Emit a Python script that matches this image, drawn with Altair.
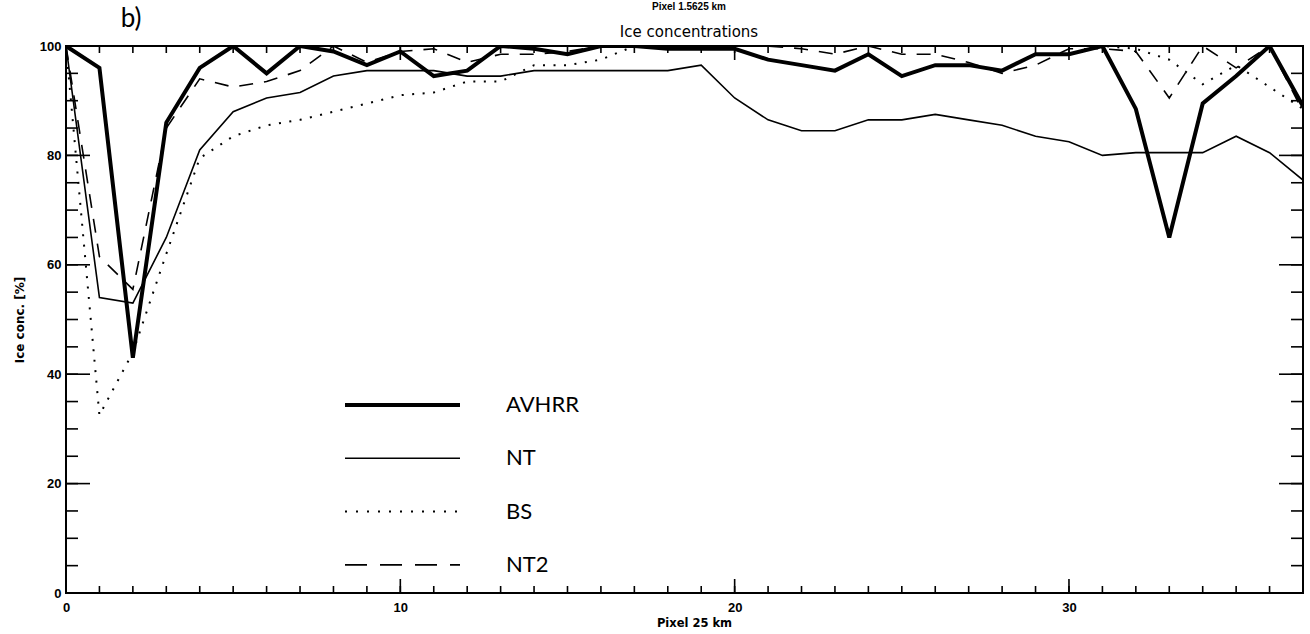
import altair as alt
import pandas as pd

# ---- data ----
pixel = list(range(38))
avhrr = [100, 96, 43, 86, 96, 100, 95, 100, 99, 96.5, 99, 94.5, 95.5, 100, 99.5, 98.5, 100, 100, 99.5, 99.5,
         99.5, 97.5, 96.5, 95.5, 98.5, 94.5, 96.5, 96.5, 95.5, 98.5, 98.5, 100, 88.5, 65, 89.5, 94.5, 100, 89]
nt = [100, 54, 53, 65, 81, 88, 90.5, 91.5, 94.5, 95.5, 95.5, 95.5, 94.5, 94.5, 95.5, 95.5, 95.5, 95.5, 95.5, 96.5,
      90.5, 86.5, 84.5, 84.5, 86.5, 86.5, 87.5, 86.5, 85.5, 83.5, 82.5, 80, 80.5, 80.5, 80.5, 83.5, 80.5, 75.5]
bs = [100, 32.5, 44, 62, 79.5, 83.5, 85.5, 86.5, 88, 89.5, 91, 91.5, 93.5, 93.5, 96.5, 96.5, 97.5, 100, 100, 100,
      100, 100, 100, 100, 100, 100, 100, 100, 100, 100, 100, 100, 99.5, 97.5, 93, 96.5, 92.5, 88.5]
nt2 = [100, 61.5, 55.5, 85, 94, 92.5, 93.5, 95.5, 100, 97, 99, 99.5, 97, 98.5, 98.5, 99, 100, 100, 100, 100,
       100, 100, 99.5, 98.5, 100, 98.5, 98.5, 97, 95, 96.5, 99.5, 99.5, 99, 90.5, 100, 96, 100, 88]

series_names = ["AVHRR", "NT", "BS", "NT2"]
series_values = [avhrr, nt, bs, nt2]

x_major_ticks = [0, 10, 20, 30]
x_minor_ticks = list(range(38))
y_major_ticks = [0, 20, 40, 60, 80, 100]
y_minor_ticks = [0, 5, 10, 15, 20, 25, 30, 35, 40, 45, 50, 55, 60, 65, 70, 75, 80, 85, 90, 95, 100]

title_text = "Ice concentrations"
top_text = "Pixel 1.5625 km"
panel_text = "b)"
x_title = "Pixel 25 km"
y_title = "Ice conc. [%]"

# ---- styling ----
W, H = 1237, 547
styles = {
    "AVHRR": dict(strokeWidth=4),
    "NT": dict(strokeWidth=1.6),
    "BS": dict(strokeWidth=2, strokeDash=[2, 8.5]),
    "NT2": dict(strokeWidth=1.6, strokeDash=[14, 11]),
}
legend_style = {
    "AVHRR": dict(strokeWidth=4),
    "NT": dict(strokeWidth=1.6),
    "BS": dict(strokeWidth=2, strokeDash=[2, 9]),
    "NT2": dict(strokeWidth=1.6, strokeDash=[22, 13]),
}

xscale = alt.Scale(domain=[0, 37], nice=False, zero=False)
yscale = alt.Scale(domain=[0, 100], nice=False)

x_axis = alt.Axis(values=x_major_ticks, ticks=False, domain=False, grid=False, labelFlush=False,
                  labelFont="Liberation Sans", labelFontWeight="bold", labelFontSize=13, labelColor="black",
                  labelPadding=8, format="d", title=x_title, titleFont="DejaVu Sans",
                  titleFontWeight="bold", titleFontSize=11.5, titleColor="black", titlePadding=3, titleX=628)
y_axis = alt.Axis(values=y_major_ticks, ticks=False, domain=False, grid=False,
                  labelFont="Liberation Sans", labelFontWeight="bold", labelFontSize=13, labelColor="black",
                  labelPadding=5, format="d", title=y_title, titleFont="DejaVu Sans",
                  titleFontWeight="bold", titleFontSize=12, titleColor="black", titlePadding=13)

layers = []
for name, vals in zip(series_names, series_values):
    df = pd.DataFrame({"pixel": pixel, "conc": vals})
    layers.append(
        alt.Chart(df).mark_line(color="black", clip=True, strokeJoin="miter", **styles[name]).encode(
            x=alt.X("pixel:Q", scale=xscale, axis=x_axis),
            y=alt.Y("conc:Q", scale=yscale, axis=y_axis),
        )
    )

# inward tick marks on all four sides
def yticks(values, x0, x1):
    return alt.Chart(pd.DataFrame({"v": values})).mark_rule(color="black", strokeWidth=1.6).encode(
        y=alt.Y("v:Q", scale=yscale, axis=y_axis), x=alt.value(x0), x2=alt.value(x1))

def xticks(values, y0, y1):
    return alt.Chart(pd.DataFrame({"v": values})).mark_rule(color="black", strokeWidth=1.6).encode(
        x=alt.X("v:Q", scale=xscale, axis=x_axis), y=alt.value(y0), y2=alt.value(y1))

layers += [
    yticks(y_minor_ticks, 0, 12), yticks(y_major_ticks, 0, 24),
    yticks(y_minor_ticks, W - 12, W), yticks(y_major_ticks, W - 24, W),
    xticks(x_minor_ticks, H, H - 7), xticks(x_major_ticks, H, H - 14),
    xticks(x_minor_ticks, 0, 7), xticks(x_major_ticks, 0, 14),
]

# legend drawn inside the plot
for k, name in enumerate(series_names):
    ly = 359 + 53.3 * k
    ldf = pd.DataFrame({"label": [name]})
    layers.append(alt.Chart(ldf).mark_rule(color="black", **legend_style[name]).encode(
        x=alt.value(279), x2=alt.value(394), y=alt.value(ly)))
    layers.append(alt.Chart(ldf).mark_text(align="left", baseline="middle", font="Lato", fontSize=22,
                                           color="black").encode(
        x=alt.value(440), y=alt.value(ly), text="label:N"))

# titles
def label(text, x, y, size, font="DejaVu Sans", weight="normal"):
    return alt.Chart(pd.DataFrame({"t": [text]})).mark_text(
        align="center", baseline="middle", font=font, fontSize=size, fontWeight=weight, color="black"
    ).encode(x=alt.value(x), y=alt.value(y), text="t:N")

layers += [
    label(title_text, 623, -14, 15),
    label(top_text, 623, -39, 10, font="Liberation Sans", weight="bold"),
    label(panel_text, 65, -27, 26, font="Lato"),
]

chart = alt.layer(*layers).properties(
    width=W, height=H,
    autosize=alt.AutoSizeParams(type="none"),
    padding={"left": 66, "top": 46, "right": 7, "bottom": 41},
    background="white",
).configure_view(stroke="black", strokeWidth=2)

chart.save("out.html", embed_options={"renderer": "svg", "actions": False})
